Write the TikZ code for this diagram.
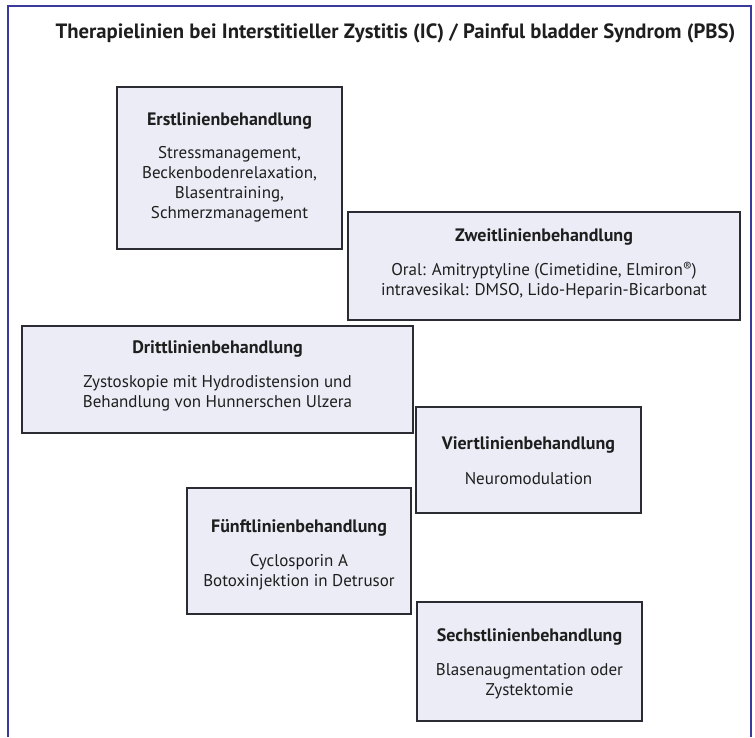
\documentclass[tikz,border=0pt]{standalone}
\usepackage{fontspec}
\setmainfont{PT Sans}
\definecolor{frameblue}{HTML}{3A3A9C}
\definecolor{boxline}{HTML}{2B2B33}
\definecolor{boxfill}{HTML}{ECECF6}
\definecolor{txt}{HTML}{1E1E1E}
\begin{document}
\begin{tikzpicture}[x=1pt,y=-1pt,
  box/.style={draw=boxline, fill=boxfill, line width=1.3pt, inner sep=0pt},
  ttl/.style={font=\fontsize{18}{20}\selectfont\bfseries, text=txt, inner sep=0pt},
  bod/.style={font=\fontsize{17}{20}\selectfont, align=center, text=txt, inner sep=0pt},
  head/.style={font=\fontsize{20.7}{22}\selectfont\bfseries, text=txt, inner sep=0pt}]
\useasboundingbox (0,0) rectangle (755,737);
\fill[white] (0,0) rectangle (755,737);
% outer frame (open at the bottom)
\coordinate (fbl) at (8,737);
\coordinate (ftl) at (8,6);
\coordinate (ftr) at (751,6);
\coordinate (fbr) at (751,737);
\draw[frameblue, line width=2pt] (fbl) -- (ftl) -- (ftr) -- (fbr);
\node[head] (title) at (395.5,33) {Therapielinien bei Interstitieller Zystitis (IC) / Painful bladder Syndrom (PBS)};
% boxes
\node[box, minimum width=225pt, minimum height=162pt] (b1) at (229.5,168) {};
\node[box, minimum width=392pt, minimum height=108pt] (b2) at (544,266) {};
\node[box, minimum width=391pt, minimum height=107pt] (b3) at (217.5,379.5) {};
\node[box, minimum width=225pt, minimum height=106pt] (b4) at (528.5,460) {};
\node[box, minimum width=224pt, minimum height=126pt] (b5) at (299,551) {};
\node[box, minimum width=225pt, minimum height=119pt] (b6) at (529.5,661.5) {};
% texts
\node[ttl] (t1) at (229.5,121) {Erstlinienbehandlung};
\node[bod] (x1) at (229.5,184.5) {Stressmanagement,\\Beckenbodenrelaxation,\\Blasentraining,\\Schmerzmanagement};
\node[ttl] (t2) at (544,237) {Zweitlinienbehandlung};
\node[bod] (x2) at (544,281) {Oral: Amitryptyline (Cimetidine, Elmiron{\raisebox{4pt}{\fontsize{13}{13}\selectfont ®}})\\intravesikal: DMSO, Lido-Heparin-Bicarbonat};
\node[ttl] (t3) at (217.5,349) {Drittlinienbehandlung};
\node[bod] (x3) at (217.5,393) {Zystoskopie mit Hydrodistension und\\Behandlung von Hunnerschen Ulzera};
\node[ttl] (t4) at (528.5,445) {Viertlinienbehandlung};
\node[bod] (x4) at (528.5,479) {Neuromodulation};
\node[ttl] (t5) at (299,528) {Fünftlinienbehandlung};
\node[bod] (x5) at (299,572) {Cyclosporin A\\Botoxinjektion in Detrusor};
\node[ttl] (t6) at (529.5,637) {Sechstlinienbehandlung};
\node[bod] (x6) at (529.5,681) {Blasenaugmentation oder\\Zystektomie};
\end{tikzpicture}
\end{document}
